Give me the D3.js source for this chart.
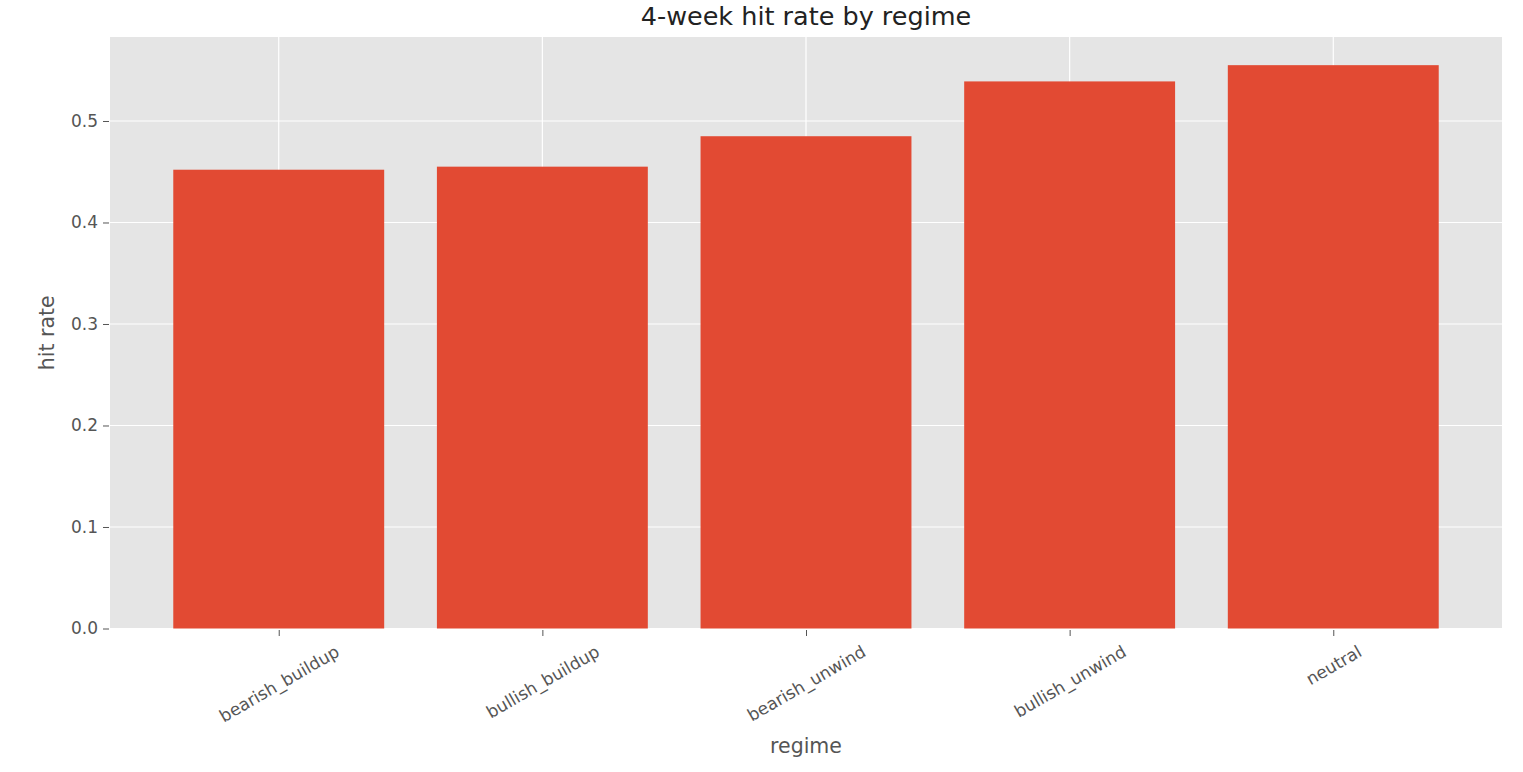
<!DOCTYPE html>
<html>
<head>
<meta charset="utf-8">
<script src="https://cdn.jsdelivr.net/npm/d3@7"></script>
<style>
  body { margin: 0; background: #fff; }
  text { font-family: "DejaVu Sans", sans-serif; }
</style>
</head>
<body>
<div id="chart"></div>
<script>
const regimes = ["bearish_buildup", "bullish_buildup", "bearish_unwind", "bullish_unwind", "neutral"];
const hitRates = [0.452, 0.455, 0.485, 0.539, 0.555];
const yTicks = [0.0, 0.1, 0.2, 0.3, 0.4, 0.5];

const width = 1523,
  height = 772,
  margin = { top: 37, right: 21, bottom: 143.5, left: 110 };

const svg = d3.select("#chart")
  .append("svg")
  .attr("width", width)
  .attr("height", height);

// scales (matplotlib style: bars at integer positions, 5% margins)
let xScale = d3.scaleLinear()
  .domain([-0.64, regimes.length - 1 + 0.64])
  .range([margin.left, width - margin.right]);
let yScale = d3.scaleLinear()
  .domain([0, d3.max(hitRates) * 1.05])
  .range([height - margin.bottom, margin.top]);

// background
svg.append("rect")
  .attr("x", margin.left)
  .attr("y", margin.top)
  .attr("width", width - margin.left - margin.right)
  .attr("height", height - margin.top - margin.bottom)
  .attr("fill", "#e5e5e5");

// grid
svg.selectAll(".hgrid").data(yTicks).enter()
  .append("line")
  .attr("x1", margin.left)
  .attr("x2", width - margin.right)
  .attr("y1", d => yScale(d))
  .attr("y2", d => yScale(d))
  .attr("stroke", "#fff")
  .attr("stroke-width", 1.2);
svg.selectAll(".vgrid").data(regimes).enter()
  .append("line")
  .attr("x1", (d, i) => xScale(i))
  .attr("x2", (d, i) => xScale(i))
  .attr("y1", margin.top)
  .attr("y2", height - margin.bottom)
  .attr("stroke", "#fff")
  .attr("stroke-width", 1.2);

// bars
const barW = xScale(0.8) - xScale(0);
svg.selectAll(".bar").data(hitRates).enter()
  .append("rect")
  .attr("x", (d, i) => xScale(i) - barW / 2)
  .attr("y", d => yScale(d))
  .attr("width", barW)
  .attr("height", d => yScale(0) - yScale(d))
  .attr("fill", "#e24a33");

// y axis
let yAxis = svg.append("g")
  .attr("transform", "translate(" + margin.left + ",0)")
  .call(d3.axisLeft(yScale).tickValues(yTicks).tickFormat(d3.format(".1f")).tickSize(6).tickPadding(6));
yAxis.select(".domain").remove();
yAxis.selectAll("line").attr("stroke", "#555").attr("transform", "translate(-1,0)");
yAxis.selectAll("text").attr("fill", "#555").style("font-size", "17px").style("font-family", "DejaVu Sans");

// x axis
let xAxis = svg.append("g")
  .attr("transform", "translate(0," + (height - margin.bottom) + ")")
  .call(d3.axisBottom(xScale).tickValues(d3.range(regimes.length)).tickFormat(i => regimes[i]).tickSize(6));
xAxis.select(".domain").remove();
xAxis.selectAll("line").attr("stroke", "#555").attr("transform", "translate(0,1.5)");
xAxis.selectAll("text")
  .attr("fill", "#555")
  .style("font-size", "17px")
  .style("font-family", "DejaVu Sans")
  .attr("y", 0)
  .attr("dy", "0.35em")
  .attr("text-anchor", "middle")
  .each(function(d) {
    const w = this.getComputedTextLength();
    const h = 17 * 1.16;
    const boxH = w * Math.sin(Math.PI / 6) + h * Math.cos(Math.PI / 6);
    d3.select(this).attr("transform", "translate(0," + (13 + boxH / 2) + ") rotate(-30)");
  });

// labels
svg.append("text")
  .attr("x", (margin.left + width - margin.right) / 2)
  .attr("y", 25)
  .attr("text-anchor", "middle")
  .attr("fill", "#222")
  .style("font-size", "25.5px")
  .text("4-week hit rate by regime");

svg.append("text")
  .attr("x", (margin.left + width - margin.right) / 2)
  .attr("y", 753)
  .attr("text-anchor", "middle")
  .attr("fill", "#555")
  .style("font-size", "20.5px")
  .text("regime");

svg.append("text")
  .attr("transform", "translate(54," + ((margin.top + height - margin.bottom) / 2) + ") rotate(-90)")
  .attr("text-anchor", "middle")
  .attr("fill", "#555")
  .style("font-size", "20.5px")
  .text("hit rate");
</script>
</body>
</html>
